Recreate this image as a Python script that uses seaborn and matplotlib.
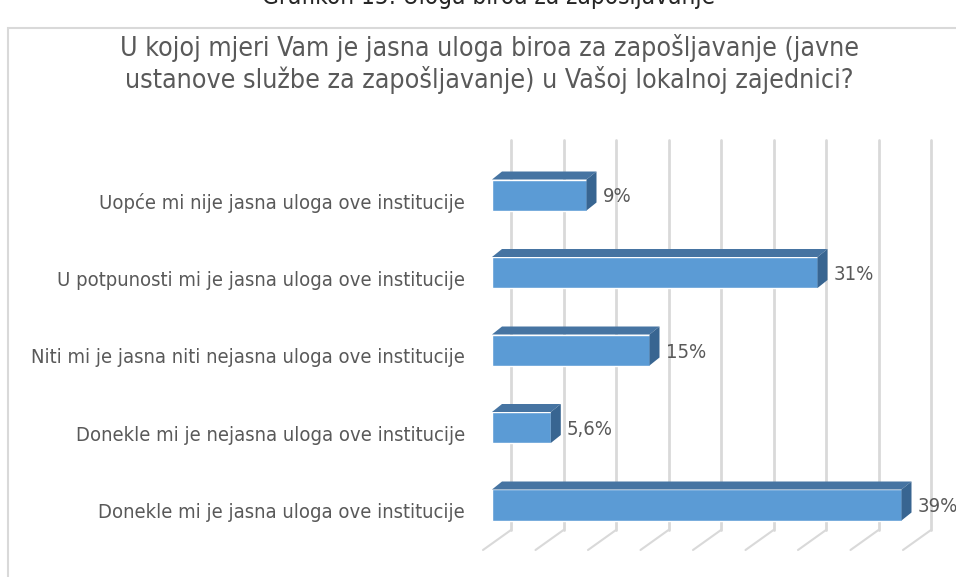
import numpy as np
import pandas as pd
import matplotlib
matplotlib.use("Agg")
import matplotlib.pyplot as plt
import seaborn as sns
from matplotlib.patches import Rectangle

# ==================================================
# DATA
# ==================================================

categories = [
    "Uopće mi nije jasna uloga ove institucije",
    "U potpunosti mi je jasna uloga ove institucije",
    "Niti mi je jasna niti nejasna uloga ove institucije",
    "Donekle mi je nejasna uloga ove institucije",
    "Donekle mi je jasna uloga ove institucije",
]
values = [9, 31, 15, 5.6, 39]
value_labels = ["9%", "31%", "15%", "5,6%", "39%"]
grid_ticks = [0, 5, 10, 15, 20, 25, 30, 35, 40]

caption = "Grafikon 15: Uloga biroa za zapošljavanje"
title = ("U kojoj mjeri Vam je jasna uloga biroa za zapošljavanje (javne\n"
         "ustanove službe za zapošljavanje) u Vašoj lokalnoj zajednici?")

df = pd.DataFrame({"Kategorija": categories, "Postotak": values})

# ==================================================
# STYLE
# ==================================================

sns.set_theme(style="white")
plt.rcParams["font.family"] = ["DejaVu Sans Condensed", "DejaVu Sans"]
plt.rcParams["font.stretch"] = "condensed"

text_color = "#595959"
front_color = "#5b9bd5"
top_color = "#4674a2"
side_color = "#386591"
grid_color = "#d9d9d9"

W, H = 956, 577
fig = plt.figure(figsize=(W / 100, H / 100), dpi=100)

# axes placed in pixels: x 492..912 for 0..40, y 140..550
ax_left, ax_right, ax_top, ax_bottom = 492, 912, 140, 550
ax = fig.add_axes([ax_left / W, 1 - ax_bottom / H,
                   (ax_right - ax_left) / W, (ax_bottom - ax_top) / H])

px_x = (ax_right - ax_left) / 40.0     # pixels per percent
px_y = 77.5                             # pixels per category step
first_center = 195
y_top = (ax_top - first_center) / px_y
y_bot = (ax_bottom - first_center) / px_y

# ==================================================
# GRID (back wall + floor)
# ==================================================

back_dx = 19 / px_x
front_dx = -9 / px_x
wall_bottom = (530 - first_center) / px_y
for t in grid_ticks:
    ax.plot([t + back_dx, t + back_dx], [y_top, wall_bottom],
            color=grid_color, lw=2, zorder=0, clip_on=False)
    ax.plot([t + back_dx, t + front_dx], [wall_bottom, y_bot],
            color=grid_color, lw=1.5, zorder=0, clip_on=False)

# ==================================================
# BARS
# ==================================================

bar_h = 0.4
sns.barplot(data=df, x="Postotak", y="Kategorija", order=categories,
            color=front_color, saturation=1, width=bar_h, orient="h",
            ax=ax, zorder=3)

dx = 10 / px_x
dy = 8 / px_y
for i, v in enumerate(values):
    top = i - bar_h / 2
    bot = i + bar_h / 2
    ax.fill([0, v, v + dx, dx], [top, top, top - dy, top - dy],
            color=top_color, zorder=3, lw=0)
    ax.fill([v, v + dx, v + dx, v], [top, top - dy, bot - dy, bot],
            color=side_color, zorder=3, lw=0)
    ax.text(v + 16 / px_x, i + 2 / px_y, value_labels[i], ha="left",
            va="center", fontsize=14.5, color=text_color, clip_on=False)

ax.set_xlim(0, 40)
ax.set_ylim(y_bot, y_top)
ax.set_xlabel("")
ax.set_ylabel("")
ax.set_xticks([])
ax.set_yticks([])
for s in ax.spines.values():
    s.set_visible(False)
ax.patch.set_alpha(0)

# category labels
for i, c in enumerate(categories):
    ax.text(-27 / px_x, i + 8 / px_y, c, ha="right", va="center",
            fontsize=14.5, color=text_color, clip_on=False)

# ==================================================
# FRAME AND TITLES
# ==================================================

fig.patches.append(Rectangle((8 / W, -0.05), 1.0, 1 - 28 / H + 0.05,
                             transform=fig.transFigure, fill=False,
                             edgecolor=grid_color, lw=1.5))
fig.text(488 / W, 1 - 4 / H, caption, ha="center", va="baseline",
         fontsize=17.5, color="#262626")
fig.text(489 / W, 1 - 64 / H, title, ha="center", va="center",
         fontsize=19.2, color=text_color, linespacing=1.2)

plt.savefig("out.png", dpi=100)
